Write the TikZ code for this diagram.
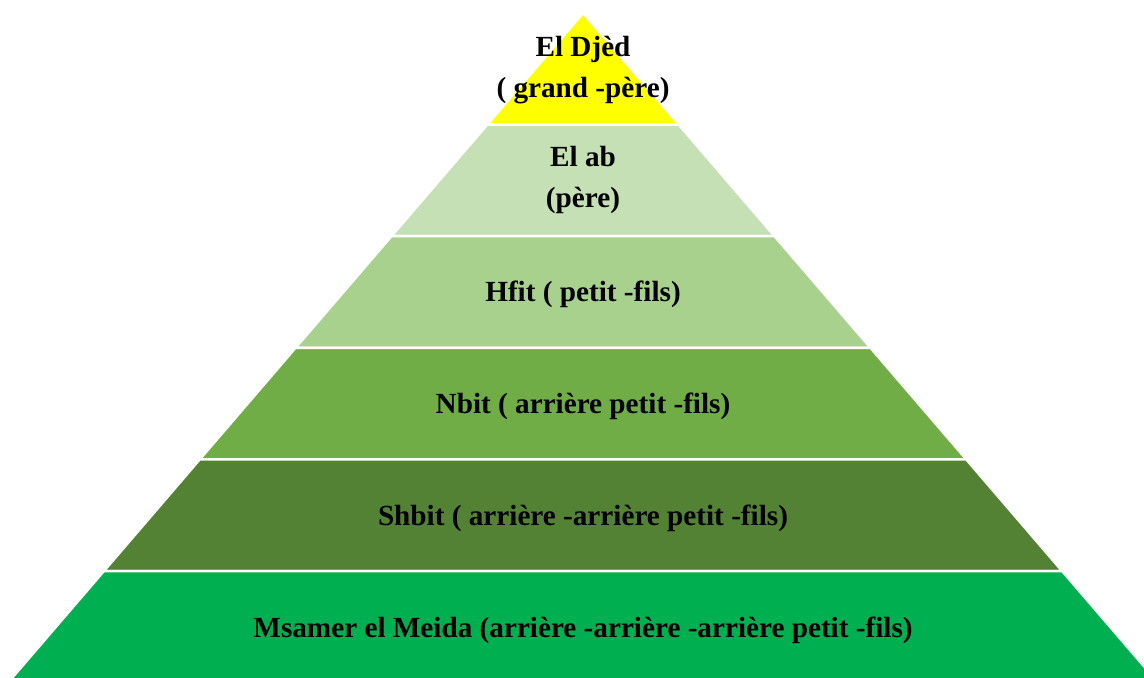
\documentclass[tikz,border=0pt]{standalone}
\usepackage{fontspec}
\setmainfont{Liberation Serif}
\usepackage{tikz}

\definecolor{pyrYellow}{HTML}{FFFF00}
\definecolor{pyrPale}{HTML}{C5E0B4}
\definecolor{pyrLight}{HTML}{A9D18E}
\definecolor{pyrMid}{HTML}{70AD47}
\definecolor{pyrDark}{HTML}{548235}
\definecolor{pyrBase}{HTML}{00B050}

\begin{document}
\begin{tikzpicture}[x=0.5pt,y=-0.5pt,
  band/.style={fill=#1,draw=white,line width=1.25pt},
  every node/.style={font=\bfseries\fontsize{14.6}{20.5}\selectfont,align=center,inner sep=0pt}]
\useasboundingbox (0,0) rectangle (1144,677);
\clip (0,0) rectangle (1144,677);
% the six layers, top to bottom
\filldraw[band=pyrYellow] (583,13) -- (678.8,124.6) -- (487.2,124.6) -- cycle;
\filldraw[band=pyrPale] (487.2,124.6) -- (678.8,124.6) -- (774.6,236.2) -- (391.4,236.2) -- cycle;
\filldraw[band=pyrLight] (391.4,236.2) -- (774.6,236.2) -- (870.5,347.8) -- (295.5,347.8) -- cycle;
\filldraw[band=pyrMid] (295.5,347.8) -- (870.5,347.8) -- (966.3,459.4) -- (199.7,459.4) -- cycle;
\filldraw[band=pyrDark] (199.7,459.4) -- (966.3,459.4) -- (1062.1,571) -- (103.9,571) -- cycle;
\filldraw[band=pyrBase] (103.9,571) -- (1062.1,571) -- (1158,682.6) -- (8,682.6) -- cycle;
% labels
\node (djed) at (583,70) {El Djèd\\( grand -père)};
\node (ab) at (583,180) {El ab\\(père)};
\node (hfit) at (583,294) {Hfit ( petit -fils)};
\node (nbit) at (583,406) {Nbit ( arrière petit -fils)};
\node (shbit) at (583,518) {Shbit ( arrière -arrière petit -fils)};
\node (msamer) at (583,630) {Msamer el Meida (arrière -arrière -arrière petit -fils)};
\end{tikzpicture}
\end{document}
